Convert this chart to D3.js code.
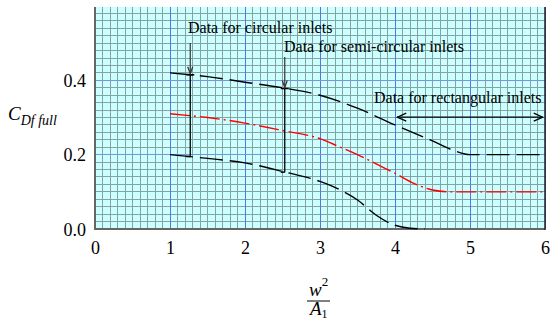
<!DOCTYPE html>
<html>
<head>
<meta charset="utf-8">
<script src="https://cdn.jsdelivr.net/npm/d3@7"></script>
<style>
  html, body { margin: 0; padding: 0; background: #fff; }
  svg { display: block; }
  text { font-family: "Liberation Serif", "Times New Roman", serif; fill: #000; }
</style>
</head>
<body>
<svg id="chart" width="558" height="322"></svg>
<script>
// Drag coefficient at full flow vs. w^2/A1
const xTicks = [0, 1, 2, 3, 4, 5, 6];
const yTicks = [0.0, 0.2, 0.4];

const circularX = [1, 1.5, 2, 2.5, 3, 3.5, 4, 4.5, 4.8, 5, 5.5, 6];
const circularY = [0.42, 0.41, 0.395, 0.38, 0.36, 0.325, 0.28, 0.237, 0.21, 0.2, 0.2, 0.2];

const semiX = [1, 1.5, 2, 2.5, 3, 3.25, 3.5, 3.75, 4, 4.25, 4.5, 4.75, 5, 5.5, 6];
const semiY = [0.31, 0.30, 0.285, 0.265, 0.243, 0.222, 0.2, 0.175, 0.15, 0.123, 0.105, 0.1, 0.1, 0.1, 0.1];

const rectX = [1, 1.5, 2, 2.5, 3, 3.25, 3.5, 3.75, 4, 4.2, 4.4];
const rectY = [0.2, 0.19, 0.178, 0.155, 0.128, 0.107, 0.078, 0.037, 0.01, 0.002, 0];

// Annotation markers: vertical spans between the upper and lower curves
const spanX = [1.27, 2.53];
const spanTop = [0.415, 0.378];
const spanBottom = [0.195, 0.153];
const rangeArrow = [4.03, 5.97];
const rangeArrowY = 0.301;

const svg = d3.select("#chart");
const plotLeft = 95, plotRight = 545, plotTop = 6, plotBottom = 229, bgTop = 7;
const serif = "Liberation Serif, Times New Roman, serif";

const x = d3.scaleLinear().domain([0, 6]).range([plotLeft, plotRight]);
const y = d3.scaleLinear().domain([0, 0.6]).range([plotBottom, plotTop]);

// Background
svg.append("rect")
  .attr("x", plotLeft).attr("y", bgTop)
  .attr("width", plotRight - plotLeft).attr("height", plotBottom - bgTop)
  .attr("fill", "#ccffff");

const grid = svg.append("g");
// Minor grid
const minorX = d3.range(0, 61).map(i => i / 10);
const minorY = d3.range(0, 31).map(i => i / 50);
grid.selectAll(".mx").data(minorX).join("line")
  .attr("x1", d => x(d)).attr("x2", d => x(d))
  .attr("y1", bgTop).attr("y2", plotBottom)
  .attr("stroke", "#86a2a2").attr("stroke-width", 1).attr("shape-rendering", "crispEdges");
grid.selectAll(".my").data(minorY.filter(d => y(d) >= bgTop)).join("line")
  .attr("x1", plotLeft).attr("x2", plotRight)
  .attr("y1", d => y(d)).attr("y2", d => y(d))
  .attr("stroke", "#86a2a2").attr("stroke-width", 1).attr("shape-rendering", "crispEdges");
// Major grid
grid.selectAll(".Mx").data(xTicks).join("line")
  .attr("x1", d => x(d)).attr("x2", d => x(d))
  .attr("y1", bgTop).attr("y2", plotBottom)
  .attr("stroke", "#5b74d6").attr("stroke-width", 1).attr("shape-rendering", "crispEdges");
grid.selectAll(".My").data(yTicks).join("line")
  .attr("x1", plotLeft).attr("x2", plotRight)
  .attr("y1", d => y(d)).attr("y2", d => y(d))
  .attr("stroke", "#7b92e0").attr("stroke-width", 1.5).attr("shape-rendering", "crispEdges");

// Frame
svg.append("line").attr("x1", plotLeft).attr("x2", plotLeft).attr("y1", bgTop).attr("y2", plotBottom + 1)
  .attr("stroke", "#666").attr("stroke-width", 2);
svg.append("line").attr("x1", plotLeft).attr("x2", plotRight).attr("y1", plotBottom).attr("y2", plotBottom)
  .attr("stroke", "#666").attr("stroke-width", 2);
svg.append("line").attr("x1", plotRight).attr("x2", plotRight).attr("y1", bgTop).attr("y2", plotBottom + 1)
  .attr("stroke", "#222").attr("stroke-width", 1.5);

// Axes
const xAxis = d3.axisBottom(x).tickValues(xTicks).tickFormat(d3.format("d")).tickSize(0).tickPadding(0);
const gx = svg.append("g").attr("transform", `translate(0,${plotBottom})`).call(xAxis);
gx.attr("font-family", serif).attr("font-size", 18);
gx.select(".domain").remove();
gx.selectAll("text").attr("dy", null).attr("y", 25)
  .attr("font-family", serif).style("font-family", serif).style("font-size", "18px");

const yAxis = d3.axisLeft(y).tickValues(yTicks).tickFormat(d3.format(".1f")).tickSize(0).tickPadding(9);
const gy = svg.append("g").attr("transform", `translate(${plotLeft},0)`).call(yAxis);
gy.attr("font-family", serif).attr("font-size", 18);
gy.select(".domain").remove();
gy.selectAll("text").attr("dy", "0.34em")
  .attr("font-family", serif).style("font-family", serif).style("font-size", "18px");

// Curves
const line = d3.line().x(d => x(d[0])).y(d => y(d[1])).curve(d3.curveMonotoneX);
const curves = [
  { xs: circularX, ys: circularY, color: "#000", dash: "23,7" },
  { xs: semiX, ys: semiY, color: "#ff0000", dash: "20,4,2,4" },
  { xs: rectX, ys: rectY, color: "#000", dash: "23,7" }
];
svg.selectAll(".curve").data(curves).join("path")
  .attr("d", c => line(c.xs.map((v, i) => [v, c.ys[i]])))
  .attr("fill", "none").attr("stroke", c => c.color)
  .attr("stroke-width", 1.4).attr("stroke-dasharray", c => c.dash);

// Span lines
svg.selectAll(".span").data(spanX).join("line")
  .attr("x1", d => x(d)).attr("x2", d => x(d))
  .attr("y1", (d, i) => y(spanTop[i])).attr("y2", (d, i) => y(spanBottom[i]))
  .attr("stroke", "#000").attr("stroke-width", 1.3);
svg.selectAll(".tick-top").data(spanX).join("line")
  .attr("x1", d => x(d) - 4).attr("x2", d => x(d) + 4)
  .attr("y1", (d, i) => y(spanTop[i])).attr("y2", (d, i) => y(spanTop[i]))
  .attr("stroke", "#000").attr("stroke-width", 1.5);
svg.selectAll(".tick-bot").data(spanX).join("line")
  .attr("x1", d => x(d) - 4).attr("x2", d => x(d))
  .attr("y1", (d, i) => y(spanBottom[i])).attr("y2", (d, i) => y(spanBottom[i]))
  .attr("stroke", "#000").attr("stroke-width", 1.5);

// Pointer arrows from the labels down to the spans
const arrowStart = [43, 57];
const ptr = svg.append("g").attr("stroke", "#333").attr("fill", "none").attr("stroke-width", 1.2);
spanX.forEach((d, i) => {
  const px = x(d), tip = y(spanTop[i]) - 1;
  ptr.append("line").attr("x1", px).attr("x2", px).attr("y1", arrowStart[i]).attr("y2", tip);
  ptr.append("path").attr("d", `M${px - 2.5},${tip - 7} L${px},${tip} L${px + 2.5},${tip - 7}`);
});

// Range arrow for rectangular inlets
const ra = svg.append("g").attr("stroke", "#000").attr("fill", "none").attr("stroke-width", 1.2);
const ax1 = x(rangeArrow[0]), ax2 = x(rangeArrow[1]), ay = y(rangeArrowY);
ra.append("line").attr("x1", ax1).attr("x2", ax2).attr("y1", ay).attr("y2", ay);
ra.append("path").attr("d", `M${ax1 + 9},${ay - 4} L${ax1},${ay} L${ax1 + 9},${ay + 4}`);
ra.append("path").attr("d", `M${ax2 - 9},${ay - 4} L${ax2},${ay} L${ax2 - 9},${ay + 4}`);

// Labels
const labelFont = "16px";
svg.append("text").attr("x", 188).attr("y", 33).style("font-size", labelFont).text("Data for circular inlets");
svg.append("text").attr("x", 284).attr("y", 52).style("font-size", labelFont).text("Data for semi-circular inlets");
svg.append("text").attr("x", 374).attr("y", 103).style("font-size", labelFont).text("Data for rectangular inlets");

// Y axis title
const yt = svg.append("text").attr("x", 8).attr("y", 120).style("font-style", "italic");
yt.append("tspan").style("font-size", "19px").text("C");
yt.append("tspan").attr("dy", 5).style("font-size", "14px").text("Df full");

// X axis title: w^2 / A1
const xt = svg.append("g");
const wt = xt.append("text").attr("x", 309).attr("y", 296).style("font-style", "italic").style("font-size", "19px");
wt.append("tspan").text("w");
wt.append("tspan").attr("dy", -10).style("font-style", "normal").style("font-size", "13px").text("2");
xt.append("line").attr("x1", 307).attr("x2", 330).attr("y1", 301).attr("y2", 301)
  .attr("stroke", "#000").attr("stroke-width", 1);
const at = xt.append("text").attr("x", 310).attr("y", 315).style("font-style", "italic").style("font-size", "19px");
at.append("tspan").text("A");
at.append("tspan").attr("dy", 3).style("font-style", "normal").style("font-size", "12px").text("1");
</script>
</body>
</html>
